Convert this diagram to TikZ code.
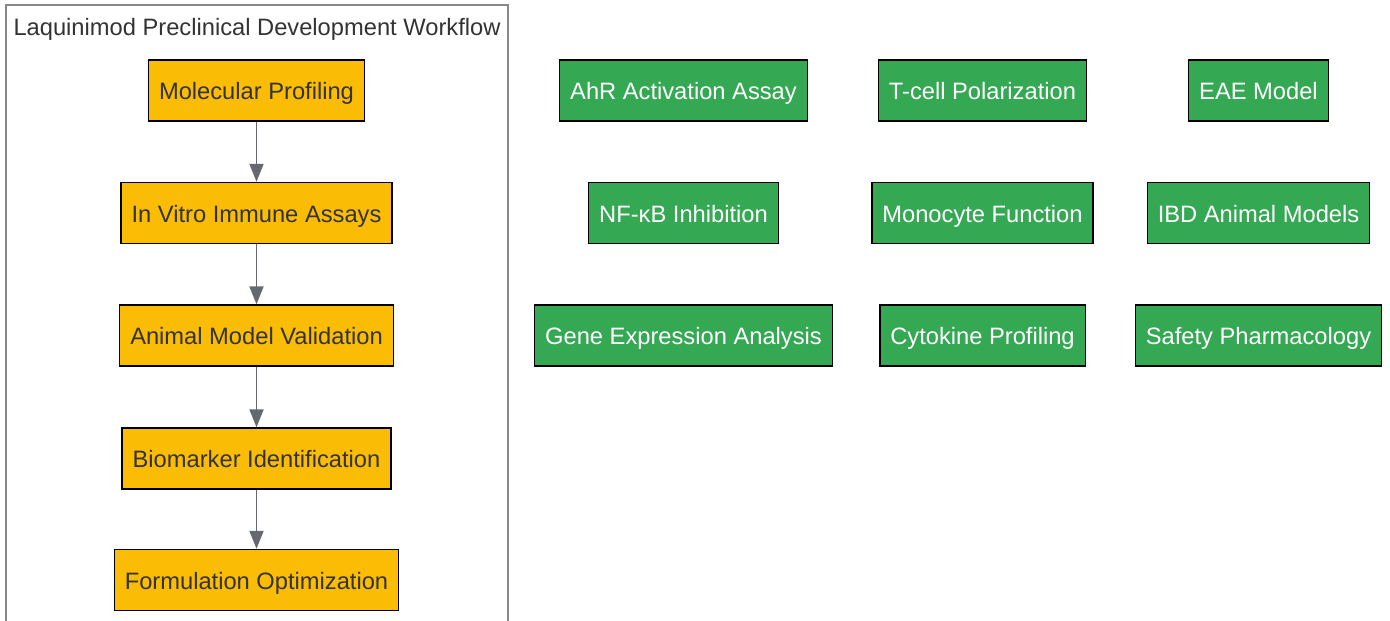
\documentclass[tikz,border=0pt]{standalone}
\usepackage{fontspec}
\setmainfont{Liberation Sans}
\usetikzlibrary{arrows.meta}
\definecolor{ybox}{HTML}{FBBC05}
\definecolor{gbox}{HTML}{34A853}
\definecolor{dtext}{HTML}{333333}
\definecolor{edgec}{HTML}{666870}
\definecolor{clus}{HTML}{888888}
\tikzset{
  basenode/.style={draw=black, line width=1.4pt, minimum height=61pt, inner xsep=10.5pt, text height=18pt, text depth=0pt, font=\fontsize{23.7}{28}\selectfont},
  orangenode/.style={basenode, fill=ybox, text=dtext},
  greennode/.style={basenode, fill=gbox, text=white},
  flow/.style={draw=edgec, line width=1.8pt, -{Triangle[length=18pt,width=14pt]}},
}
\begin{document}
\begin{tikzpicture}[x=1pt,y=-1pt]
\useasboundingbox (0,0) rectangle (1390,621);
\fill[white] (0,0) rectangle (1390,621);
\draw[clus, line width=1.5pt, fill=white] (6,5) rectangle (508,640);
\node[text=dtext, anchor=base, inner sep=0pt, font=\fontsize{23.7}{28}\selectfont] (title) at (257,35) {Laquinimod Preclinical Development Workflow};
\node[orangenode] (a) at (256.5,90.5) {Molecular Profiling};
\node[orangenode] (b) at (256.5,213) {In Vitro Immune Assays};
\node[orangenode] (c) at (256.5,335.5) {Animal Model Validation};
\node[orangenode] (d) at (256.5,458.5) {Biomarker Identification};
\node[orangenode] (e) at (256.5,580) {Formulation Optimization};
\draw[flow] (a) -- (b);
\draw[flow] (b) -- (c);
\draw[flow] (c) -- (d);
\draw[flow] (d) -- (e);
\node[greennode] (g1) at (683.5,90.5) {AhR Activation Assay};
\node[greennode] (g2) at (982.5,90.5) {T-cell Polarization};
\node[greennode] (g3) at (1258.5,90.5) {EAE Model};
\node[greennode] (g4) at (683.5,213) {NF-κB Inhibition};
\node[greennode] (g5) at (982.5,213) {Monocyte Function};
\node[greennode] (g6) at (1258.5,213) {IBD Animal Models};
\node[greennode] (g7) at (683.5,335.5) {Gene Expression Analysis};
\node[greennode] (g8) at (982.5,335.5) {Cytokine Profiling};
\node[greennode] (g9) at (1258.5,335.5) {Safety Pharmacology};
\end{tikzpicture}
\end{document}
